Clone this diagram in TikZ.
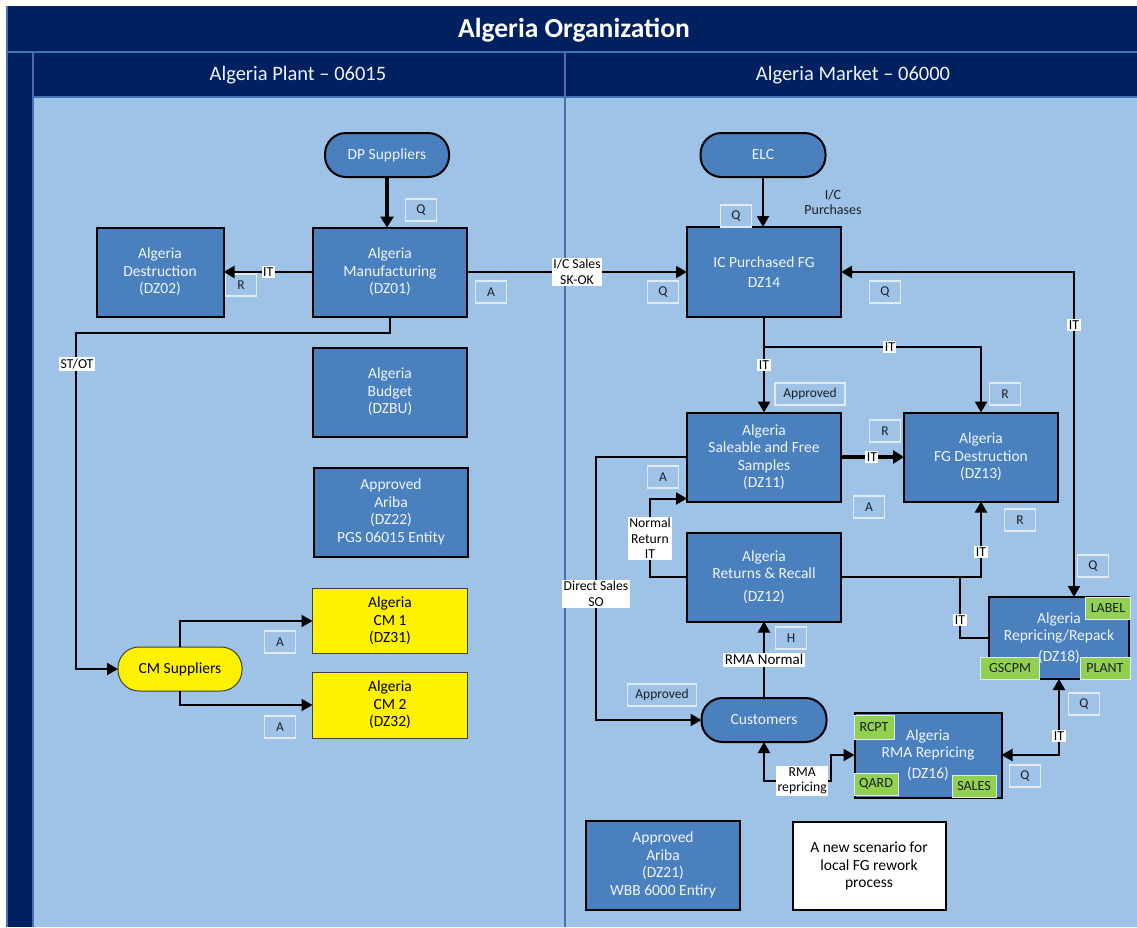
\documentclass[tikz,border=0pt]{standalone}
\usepackage{fontspec}
\setmainfont{Carlito}
\usetikzlibrary{arrows.meta}
\definecolor{navy}{RGB}{0,32,96}
\definecolor{lane}{RGB}{158,195,230}
\definecolor{laneline}{RGB}{68,114,176}
\definecolor{boxblue}{RGB}{74,128,189}
\definecolor{tagline}{RGB}{222,235,247}
\definecolor{tagtext}{RGB}{30,30,40}
\definecolor{leaf}{RGB}{146,208,80}
\definecolor{boxtext}{RGB}{240,245,251}
\begin{document}
\begin{tikzpicture}[x=1pt,y=-1pt,
  every node/.style={inner sep=0pt, outer sep=0pt},
  proc/.style={draw=black, line width=2pt, fill=boxblue, text=boxtext, align=center,
    font=\fontsize{15.5}{17.5}\selectfont},
  term/.style={proc, rounded corners=21pt},
  cmbox/.style={draw=black!75, line width=1pt, fill=yellow, text=black, align=center,
    font=\fontsize{15.5}{17.5}\selectfont},
  tag/.style={draw=tagline, line width=1.2pt, fill=lane, text=tagtext,
    font=\fontsize{13.5}{15}\selectfont, minimum height=22pt, minimum width=31pt},
  leafbox/.style={draw=tagline, line width=1pt, fill=leaf, text=tagtext,
    font=\fontsize{14}{15}\selectfont, minimum height=22pt},
  elab/.style={fill=white, text=black, align=center, inner sep=1.5pt,
    font=\fontsize{13.7}{15.5}\selectfont},
  conn/.style={line width=2pt, draw=black},
  arr/.style={conn, -{Triangle[length=11pt,width=12pt]}},
  both/.style={conn, {Triangle[length=11pt,width=12pt]}-{Triangle[length=11pt,width=12pt]}},
  heavy/.style={conn, line width=3.5pt, -{Triangle[length=11pt,width=13pt]}},
]
\useasboundingbox (0,0) rectangle (1137,927);
\fill[white] (0,0) rectangle (1137,927);

% swimlane frame
\fill[navy] (7,6) rectangle (1137,927);
\fill[lane] (33,97) rectangle (1137,927);
\begin{scope}[laneline, line width=1.5pt]
  \draw (7,6) -- (7,927);
  \draw (7,52) -- (1137,52);
  \draw (33,52) -- (33,927);
  \draw (565,52) -- (565,927);
  \draw (33,97) -- (1137,97);
\end{scope}
\node[text=white, font=\fontsize{27.5}{30}\selectfont\bfseries] (title) at (574,30) {Algeria Organization};
\node[text=boxtext, font=\fontsize{20.5}{23}\selectfont] (plant) at (298,75) {Algeria Plant – 06015};
\node[text=boxtext, font=\fontsize{20.5}{23}\selectfont] (market) at (853,75) {Algeria Market – 06000};

% plant lane
\node[term, minimum width=124, minimum height=44] (dp) at (387,155) {DP Suppliers};
\node[proc, minimum width=154, minimum height=89] (mfg) at (390,272) {Algeria\\Manufacturing\\(DZ01)};
\node[proc, minimum width=127, minimum height=89] (dz02) at (160,272) {Algeria\\Destruction\\(DZ02)};
\node[proc, minimum width=154, minimum height=89] (dzbu) at (390,392) {Algeria\\Budget\\(DZBU)};
\node[proc, minimum width=154, minimum height=89] (dz22) at (391,512) {Approved\\Ariba\\(DZ22)\\PGS 06015 Entity};
\node[cmbox, rounded corners=21pt, minimum width=124, minimum height=44] (cms) at (180,669) {CM Suppliers};
\node[cmbox, minimum width=155, minimum height=65] (cm1) at (390,621) {Algeria\\CM 1\\(DZ31)};
\node[cmbox, minimum width=155, minimum height=66] (cm2) at (390,705) {Algeria\\CM 2\\(DZ32)};

% market lane
\node[term, minimum width=125, minimum height=44] (elc) at (763,155) {ELC};
\node[proc, minimum width=154, minimum height=90] (ic) at (764,272) {IC Purchased FG\\[2pt]DZ14};
\node[proc, minimum width=154, minimum height=89] (dz11) at (764,457) {Algeria\\Saleable and Free\\Samples\\(DZ11)};
\node[proc, minimum width=154, minimum height=89] (dz13) at (981,457) {Algeria\\FG Destruction\\(DZ13)};
\node[proc, minimum width=154, minimum height=89] (dz12) at (764,577) {Algeria\\Returns \& Recall\\[5pt](DZ12)};
\node[proc, minimum width=140, minimum height=82] (dz18) at (1059,638) {Algeria\\Repricing/Repack\\[3pt](DZ18)};
\node[term, minimum width=125, minimum height=44] (cust) at (764,720) {Customers};
\node[proc, minimum width=147, minimum height=85] (dz16) at (928,755) {Algeria\\RMA Repricing\\[3pt](DZ16)};
\node[proc, minimum width=154, minimum height=89] (dz21) at (663,865) {Approved\\Ariba\\(DZ21)\\WBB 6000 Entiry};
\node[proc, fill=white, text=black, minimum width=153, minimum height=88] (note) at (869,866) {A new scenario for\\local FG rework\\process};

% status tags on the boxes
\node[leafbox, minimum width=45] (tlabel) at (1108,608) {LABEL};
\node[leafbox, minimum width=59] (tgscpm) at (1010,668) {GSCPM};
\node[leafbox, minimum width=50] (tplant) at (1105,668) {PLANT};
\node[leafbox, minimum width=40, minimum height=24] (trcpt) at (874,727) {RCPT};
\node[leafbox, minimum width=44] (tqard) at (876,784) {QARD};
\node[leafbox, minimum width=44] (tsales) at (974,786) {SALES};

% approval / role markers
\node[tag] (m1) at (421,210) {Q};
\node[tag] (m2) at (241,285) {R};
\node[tag] (m3) at (491,292) {A};
\node[tag] (m4) at (736,216) {Q};
\node[tag] (m5) at (663,292) {Q};
\node[tag] (m6) at (885,292) {Q};
\node[tag, minimum width=70] (m7) at (810,394) {Approved};
\node[tag] (m8) at (1005,394) {R};
\node[tag] (m9) at (885,431) {R};
\node[tag] (m10) at (663,477) {A};
\node[tag] (m11) at (869,507) {A};
\node[tag] (m12) at (1020,520) {R};
\node[tag] (m13) at (1093,566) {Q};
\node[tag] (m14) at (791,638) {H};
\node[tag, minimum width=69] (m15) at (662,695) {Approved};
\node[tag] (m16) at (1084,704) {Q};
\node[tag] (m17) at (1025,776) {Q};
\node[tag] (m18) at (280,642) {A};
\node[tag] (m19) at (280,727) {A};

% bend points
\coordinate (stot) at (76,333);
\coordinate (rmak) at (831,781);
\coordinate (rb) at (960,577);

% plant connectors
\draw[heavy] (dp.south) -- (dp.south |- mfg.north);
\draw[arr] (mfg.west) -- node[elab, pos=0.5] {IT} (dz02.east);
\draw[arr] (mfg.east) -- node[elab, pos=0.5] {I/C Sales\\SK-OK} (ic.west);
\draw[arr] (mfg.south) |- (stot) |- (cms.west);
\node[elab] (stotlab) at (77,364) {ST/OT};
\draw[arr] (cms.north) |- (cm1.west);
\draw[arr] (cms.south) |- (cm2.west);

% market connectors
\draw[arr] (elc.south) -- (elc.south |- ic.north);
\node[text=tagtext, align=center, font=\fontsize{14}{15.5}\selectfont] (icp) at (833,202) {I/C\\Purchases};
\draw[both] (ic.east) -| ([xshift=15pt]dz18.north);
\node[elab] (it1) at (1074,325) {IT};
\draw[arr] (ic.south) -- node[elab, pos=0.5] {IT} (dz11.north);
\draw[arr] (ic.south) -- ++(0,30) -| node[elab, pos=0.29] {IT} (dz13.north);
\draw[heavy] (dz11.east) -- node[elab, pos=0.49] {IT} (dz13.west);
\draw[arr] (dz11.west) -- ++(-91,0) |- node[elab, pos=0.26] {Direct Sales\\SO} (cust.west);
\draw[arr] (dz12.west) -- ++(-37,0) |- node[elab, pos=0.245] {Normal\\Return\\IT} ([yshift=3pt]dz11.south west);
\draw[arr] (dz12.east) -| node[elab, pos=0.667] {IT} (dz13.south);
\draw[conn] (dz18.west) -| node[elab, pos=0.65] {IT} (rb);
\draw[arr] (cust.north) -- node[elab, pos=0.5, font=\fontsize{15}{16}\selectfont] {RMA Normal} (dz12.south);
\draw[both] (cust.south) |- node[elab, pos=0.785] {RMA\\repricing} (rmak) |- (dz16.west);
\draw[both] (dz16.east) -| node[elab, pos=0.625] {IT} (dz18.south);
\end{tikzpicture}
\end{document}
